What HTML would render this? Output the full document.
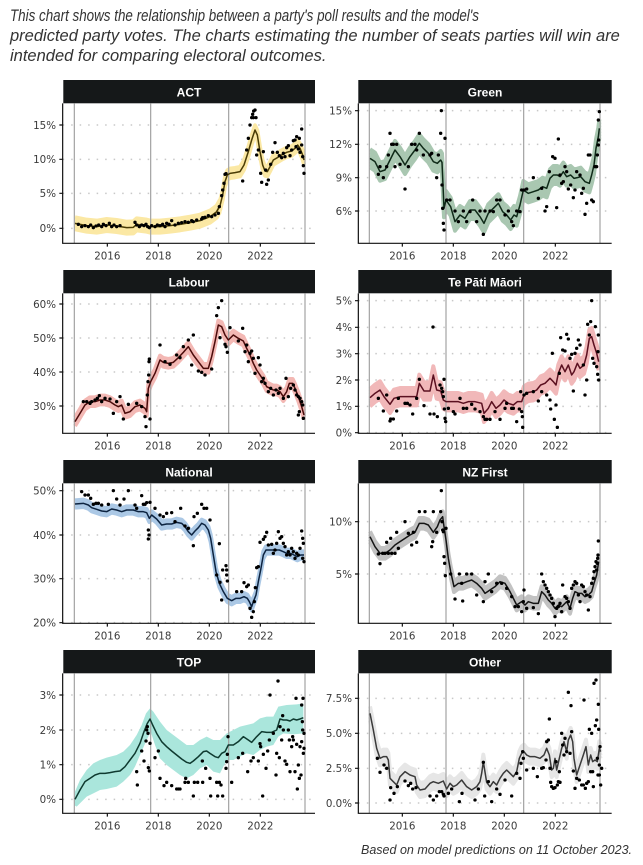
<!DOCTYPE html>
<html><head><meta charset="utf-8">
<style>
html,body{margin:0;padding:0;background:#fff;}
svg{display:block;}
.tt{font-family:"Liberation Sans",sans-serif;font-style:italic;fill:#333;}
.yl{font-family:"DejaVu Sans",sans-serif;font-size:10.3px;fill:#3a3a3a;text-anchor:end;}
.xl{font-family:"DejaVu Sans",sans-serif;font-size:10.3px;fill:#3a3a3a;text-anchor:middle;}
.st{font-family:"Liberation Sans",sans-serif;font-weight:bold;font-size:12px;fill:#fff;text-anchor:middle;}
.grid{fill:none;stroke:#c8c8c8;stroke-width:4.5;stroke-dasharray:4.5 21;}
.vl{fill:none;stroke:#a3a3a3;stroke-width:3.6;}
.ax{fill:none;stroke:#111;stroke-width:3.6;}
.rb{fill:none;stroke-width:12;stroke-linejoin:round;stroke-linecap:butt;}
.ln{fill:none;stroke-width:4.5;stroke-linejoin:round;}
.dt{fill:none;stroke:#000;stroke-width:10;stroke-linecap:round;}
</style></head>
<body>
<svg width="643" height="865" viewBox="0 0 643 865" xmlns="http://www.w3.org/2000/svg">
<defs>
<path id="pA1" d="M165,445 L200,452 L230,455 L260,450 L290,453 L320,458 L340,457 L350,448 L380,452 L392,455 L420,455 L450,452 L480,448 L510,443 L540,437 L570,425 L590,410 L600,392"/>
<path id="pA2" d="M590,410 L600,392 L608,360 L615,320 L622,300 L630,295 L645,293 L660,290 L672,270 L685,230 L695,195 L705,165 L712,180 L720,230 L728,270 L735,288 L742,290 L750,275 L760,255 L772,248 L785,240 L800,232 L815,228 L825,220 L833,210 L840,220 L848,240 L852,255"/>
<path id="pG" d="M150,250 L165,260 L180,290 L195,285 L210,255 L225,225 L240,245 L255,270 L270,245 L285,225 L298,205 L310,220 L325,235 L340,260 L352,265 L362,255 L366,262 L369,330 L372,400 L378,375 L392,395 L405,440 L420,420 L435,430 L450,405 L465,405 L480,425 L492,445 L505,415 L520,400 L535,385 L548,410 L560,420 L572,435 L582,420 L590,425 L600,390 L610,345 L625,355 L640,350 L655,345 L668,335 L680,340 L690,310 L700,300 L712,300 L720,305 L730,290 L740,305 L752,300 L762,310 L772,308 L782,305 L795,320 L808,325 L815,300 L822,270 L828,220 L835,185 L838,160"/>
<path id="pL" d="M165,470 L180,445 L195,420 L210,410 L225,410 L240,405 L255,405 L270,410 L285,420 L295,425 L305,420 L315,445 L330,440 L345,425 L360,420 L375,430 L380,440 L385,370 L392,350 L405,325 L420,285 L430,292 L445,295 L460,292 L475,278 L490,262 L505,245 L520,270 L535,290 L550,310 L565,310 L575,275 L585,230 L595,180 L605,185 L615,210 L625,225 L640,210 L655,220 L670,228 L680,250 L690,270 L700,295 L710,315 L720,330 L730,345 L740,365 L750,370 L760,375 L770,375 L780,380 L790,395 L800,380 L808,355 L818,355 L825,370 L835,395 L845,425 L852,450"/>
<path id="pM" d="M150,398 L165,385 L180,375 L192,395 L210,418 L222,400 L240,395 L260,395 L280,395 L290,395 L298,355 L312,378 L330,378 L340,330 L350,375 L362,378 L370,405 L378,410 L395,410 L415,410 L430,415 L445,410 L465,410 L485,415 L492,445 L505,430 L515,410 L528,430 L540,420 L552,405 L565,415 L580,420 L592,410 L605,410 L612,390 L625,382 L640,380 L650,375 L662,360 L675,355 L690,340 L700,350 L708,360 L715,325 L725,300 L735,320 L745,300 L755,330 L762,320 L772,295 L780,310 L792,300 L800,270 L808,220 L815,215 L822,240 L830,265 L836,290"/>
<path id="pN" d="M165,147 L190,145 L205,150 L215,158 L230,163 L245,168 L260,170 L275,162 L290,165 L305,170 L320,165 L340,165 L355,170 L370,170 L380,173 L388,190 L395,180 L410,192 L425,210 L440,207 L455,207 L470,202 L485,205 L495,215 L505,230 L515,240 L525,228 L535,218 L545,205 L555,210 L565,225 L572,250 L580,300 L588,350 L598,385 L610,410 L622,430 L635,437 L648,430 L660,430 L672,425 L682,430 L688,440 L695,455 L700,440 L708,420 L715,380 L722,345 L730,300 L738,285 L748,285 L758,285 L768,285 L778,285 L790,290 L800,295 L812,295 L822,300 L832,305 L842,300 L852,300"/>
<path id="pZ" d="M150,245 L165,275 L180,295 L195,295 L210,285 L225,270 L240,260 L255,250 L270,240 L285,232 L298,205 L312,205 L325,210 L340,232 L352,215 L360,195 L368,185 L372,215 L378,255 L385,310 L392,350 L402,395 L415,385 L428,385 L440,380 L455,375 L470,385 L485,400 L495,415 L510,405 L525,395 L540,380 L555,385 L570,410 L580,430 L590,450 L605,440 L615,450 L625,440 L640,445 L655,445 L665,410 L675,420 L685,435 L695,445 L705,460 L715,450 L725,455 L740,440 L750,460 L758,430 L765,410 L775,415 L785,415 L795,425 L805,420 L815,410 L822,385 L830,360 L836,320"/>
<path id="pO" d="M150,205 L160,255 L170,310 L180,340 L190,335 L200,335 L205,345 L210,400 L220,410 L230,420 L240,395 L255,380 L270,390 L285,395 L290,420 L300,435 L315,432 L330,415 L340,410 L355,415 L370,408 L380,432 L390,415 L400,425 L410,420 L425,405 L440,425 L455,435 L470,425 L480,410 L485,385 L490,350 L500,412 L510,425 L520,410 L530,420 L540,400 L550,385 L560,375 L570,385 L580,395 L590,380 L598,340 L605,325 L612,320 L620,330 L630,335 L645,335 L660,340 L672,330 L680,310 L688,330 L695,375 L700,370 L705,340 L710,375 L718,340 L725,310 L732,290 L740,320 L745,285 L752,270 L758,290 L762,340 L770,390 L780,360 L790,330 L798,305 L805,360 L812,330 L818,350 L825,345 L832,350 L838,310 L842,320"/>
</defs>
<rect width="643" height="865" fill="#fff"/>
<!-- Title -->
<text class="tt" font-size="16.5" transform="translate(10,21) scale(0.813,1)">This chart shows the relationship between a party's poll results and the model's</text>
<text class="tt" font-size="16.5" transform="translate(10,41) scale(1.0,1)">predicted party votes. The charts estimating the number of seats parties will win are</text>
<text class="tt" font-size="16.5" transform="translate(10,61) scale(1.0,1)">intended for comparing electoral outcomes.</text>

<!-- Strips -->
<rect x="63.3" y="80" width="251.7" height="23.3" fill="#151819"/>
<rect x="358.3" y="80" width="253.4" height="23.3" fill="#151819"/>
<rect x="63.3" y="270" width="251.7" height="23.3" fill="#151819"/>
<rect x="358.3" y="270" width="253.4" height="23.3" fill="#151819"/>
<rect x="63.3" y="460" width="251.7" height="23.3" fill="#151819"/>
<rect x="358.3" y="460" width="253.4" height="23.3" fill="#151819"/>
<rect x="63.3" y="650" width="251.7" height="23.3" fill="#151819"/>
<rect x="358.3" y="650" width="253.4" height="23.3" fill="#151819"/>
<text class="st" x="189" y="96.3">ACT</text>
<text class="st" x="485" y="96.3">Green</text>
<text class="st" x="189" y="286.3">Labour</text>
<text class="st" x="485" y="286.3">Te Pāti Māori</text>
<text class="st" x="189" y="476.3">National</text>
<text class="st" x="485" y="476.3">NZ First</text>
<text class="st" x="189" y="666.3">TOP</text>
<text class="st" x="485" y="666.3">Other</text>

<!-- ================= ACT ================= -->
<g transform="translate(20,75) scale(0.33333)">
<path class="grid" d="M128 150H885M128 253H885M128 355H885M128 460H885"/>
<g class="rb" stroke="#fbe8a4">
<use href="#pA1" y="-18"/><use href="#pA1" y="-9"/><use href="#pA1" y="0"/><use href="#pA1" y="9"/><use href="#pA1" y="18"/>
<use href="#pA2" y="-14"/><use href="#pA2" y="-5"/><use href="#pA2" y="5"/><use href="#pA2" y="14"/>
</g>
<path class="vl" d="M163 85V505M392 85V505M626 85V505M855 85V505"/>
<g class="ln" stroke="#4a3c05"><use href="#pA1"/><use href="#pA2"/></g>
<path class="dt" d="M175 448h.1M185 455h.1M195 452h.1M205 455h.1M212 450h.1M220 458h.1M228 453h.1M236 450h.1M245 455h.1M250 448h.1M258 452h.1M268 445h.1M275 455h.1M282 450h.1M290 455h.1M300 452h.1M345 442h.1M350 450h.1M358 455h.1M365 450h.1M372 452h.1M378 448h.1M383 455h.1M388 458h.1M395 452h.1M405 455h.1M412 450h.1M420 452h.1M428 448h.1M435 455h.1M440 445h.1M447 448h.1M455 437h.1M465 450h.1M475 445h.1M485 443h.1M495 440h.1M505 442h.1M515 437h.1M520 440h.1M530 435h.1M545 432h.1M548 428h.1M555 427h.1M565 422h.1M575 425h.1M585 420h.1M595 415h.1M598 395h.1M605 362h.1M608 345h.1M612 325h.1M615 298h.1M618 296h.1M668 318h.1M680 225h.1M685 190h.1M690 150h.1M695 128h.1M698 118h.1M701 108h.1M705 105h.1M700 128h.1M708 128h.1M710 240h.1M715 225h.1M722 295h.1M725 322h.1M730 230h.1M737 285h.1M740 328h.1M745 315h.1M752 268h.1M758 232h.1M765 203h.1M772 232h.1M778 242h.1M785 248h.1M790 235h.1M795 245h.1M800 218h.1M805 212h.1M810 242h.1M815 225h.1M820 197h.1M825 195h.1M830 185h.1M835 222h.1M838 190h.1M845 162h.1M845 210h.1M848 245h.1M850 272h.1M852 295h.1M840 232h.1M828 215h.1"/>
<path class="ax" d="M128 85V505H885M118 150H128M118 253H128M118 355H128M118 460H128M262 505V515M415 505V515M568 505V515M721 505V515"/>
</g>

<!-- ================= Green ================= -->
<g transform="translate(320,75) scale(0.33333)">
<path class="grid" d="M115 107H875M115 208H875M115 308H875M115 408H875"/>
<g class="rb" stroke="#a9c7b1">
<use href="#pG" y="-27"/><use href="#pG" y="-18"/><use href="#pG" y="-9"/><use href="#pG" y="0"/><use href="#pG" y="9"/><use href="#pG" y="18"/><use href="#pG" y="27"/>
</g>
<path class="vl" d="M148 85V505M378 85V505M611 85V505M840 85V505"/>
<use href="#pG" class="ln" stroke="#0f2a18"/>
<path class="dt" d="M175 298h.1M180 275h.1M190 308h.1M200 275h.1M205 240h.1M210 175h.1M215 208h.1M220 208h.1M225 275h.1M230 208h.1M240 268h.1M255 342h.1M265 275h.1M275 208h.1M285 208h.1M290 225h.1M298 175h.1M310 240h.1M330 240h.1M335 235h.1M350 308h.1M355 240h.1M362 175h.1M364 107h.1M366 330h.1M368 400h.1M370 445h.1M372 465h.1M375 190h.1M380 375h.1M390 375h.1M405 408h.1M415 440h.1M430 408h.1M440 440h.1M450 410h.1M458 375h.1M470 440h.1M480 408h.1M490 478h.1M495 408h.1M510 408h.1M520 410h.1M530 375h.1M540 375h.1M555 420h.1M565 408h.1M575 440h.1M580 452h.1M590 408h.1M600 410h.1M605 345h.1M612 345h.1M620 342h.1M640 308h.1M655 370h.1M665 340h.1M675 408h.1M680 395h.1M688 290h.1M698 245h.1M705 250h.1M710 398h.1M715 192h.1M720 300h.1M725 325h.1M730 320h.1M735 275h.1M740 290h.1M745 342h.1M752 330h.1M760 368h.1M765 345h.1M770 290h.1M780 300h.1M785 355h.1M790 340h.1M795 418h.1M800 385h.1M805 240h.1M810 240h.1M815 375h.1M820 380h.1M825 275h.1M830 275h.1M832 240h.1M835 210h.1M835 135h.1M838 110h.1M836 195h.1"/>
<path class="ax" d="M115 85V505H875M105 107H115M105 208H115M105 308H115M105 408H115M247 505V515M400 505V515M553 505V515M706 505V515"/>
</g>

<!-- ================= Labour ================= -->
<g transform="translate(20,265) scale(0.33333)">
<path class="grid" d="M128 117H885M128 219H885M128 321H885M128 423H885"/>
<g class="rb" stroke="#f3b8b4">
<use href="#pL" y="-13"/><use href="#pL" y="-4"/><use href="#pL" y="4"/><use href="#pL" y="13"/>
</g>
<path class="vl" d="M163 85V505M392 85V505M626 85V505M855 85V505"/>
<use href="#pL" class="ln" stroke="#4b0a0a"/>
<path class="dt" d="M190 410h.1M200 410h.1M210 415h.1M215 410h.1M225 405h.1M232 400h.1M238 392h.1M245 410h.1M255 400h.1M270 402h.1M280 445h.1M290 410h.1M300 395h.1M310 462h.1M325 418h.1M350 415h.1M365 425h.1M375 455h.1M378 485h.1M382 390h.1M384 350h.1M386 330h.1M387 290h.1M388 282h.1M390 462h.1M420 240h.1M435 290h.1M450 298h.1M470 270h.1M480 278h.1M490 245h.1M505 225h.1M520 210h.1M515 300h.1M535 318h.1M545 322h.1M555 330h.1M575 312h.1M590 152h.1M595 128h.1M600 218h.1M605 107h.1M615 238h.1M618 245h.1M622 262h.1M630 188h.1M655 228h.1M668 190h.1M675 260h.1M680 240h.1M685 290h.1M690 265h.1M695 258h.1M700 280h.1M705 325h.1M715 278h.1M720 300h.1M725 350h.1M730 340h.1M735 355h.1M745 380h.1M752 370h.1M760 390h.1M768 375h.1M775 385h.1M780 370h.1M790 400h.1M798 340h.1M805 395h.1M812 370h.1M820 360h.1M825 375h.1M830 390h.1M835 395h.1M840 400h.1M845 410h.1M848 420h.1M850 460h.1M835 450h.1M838 440h.1"/>
<path class="ax" d="M128 85V505H885M118 117H128M118 219H128M118 321H128M118 423H128M262 505V515M415 505V515M568 505V515M721 505V515"/>
</g>

<!-- ================= Te Pati Maori ================= -->
<g transform="translate(320,265) scale(0.33333)">
<path class="grid" d="M115 107H875M115 187H875M115 266H875M115 345H875M115 424H875M115 503H875"/>
<g class="rb" stroke="#f1b8b9">
<use href="#pM" y="-26"/><use href="#pM" y="-17"/><use href="#pM" y="-9"/><use href="#pM" y="0"/><use href="#pM" y="9"/><use href="#pM" y="17"/><use href="#pM" y="26"/>
</g>
<path class="vl" d="M148 85V505M378 85V505M611 85V505M840 85V505"/>
<use href="#pM" class="ln" stroke="#5b1020"/>
<path class="dt" d="M175 400h.1M190 438h.1M200 390h.1M210 468h.1M212 462h.1M220 462h.1M230 438h.1M235 400h.1M255 415h.1M262 415h.1M270 420h.1M278 447h.1M290 400h.1M298 343h.1M312 422h.1M330 447h.1M339 186h.1M342 447h.1M352 455h.1M360 360h.1M365 370h.1M368 380h.1M370 395h.1M372 343h.1M373 432h.1M375 460h.1M377 470h.1M385 430h.1M400 440h.1M405 447h.1M420 400h.1M430 430h.1M440 430h.1M455 418h.1M465 432h.1M480 440h.1M490 455h.1M495 463h.1M500 463h.1M510 463h.1M525 440h.1M540 463h.1M555 430h.1M560 415h.1M575 430h.1M580 430h.1M590 470h.1M598 432h.1M602 380h.1M605 440h.1M607 455h.1M608 487h.1M612 390h.1M620 385h.1M640 380h.1M655 408h.1M665 380h.1M680 390h.1M690 405h.1M692 432h.1M697 265h.1M703 463h.1M708 420h.1M712 487h.1M718 325h.1M722 218h.1M728 255h.1M735 258h.1M740 208h.1M745 222h.1M750 280h.1M755 268h.1M760 378h.1M765 265h.1M770 250h.1M775 225h.1M780 240h.1M790 300h.1M795 390h.1M800 345h.1M803 178h.1M808 210h.1M812 170h.1M815 107h.1M818 280h.1M822 295h.1M826 185h.1M830 305h.1M833 328h.1M836 345h.1M835 210h.1M834 260h.1"/>
<path class="ax" d="M115 85V505H875M105 107H115M105 187H115M105 266H115M105 345H115M105 424H115M105 503H115M247 505V515M400 505V515M553 505V515M706 505V515"/>
</g>

<!-- ================= National ================= -->
<g transform="translate(20,455) scale(0.33333)">
<path class="grid" d="M128 107H885M128 240H885M128 371H885M128 503H885"/>
<g class="rb" stroke="#abc8e5">
<use href="#pN" y="-11"/><use href="#pN" y="0"/><use href="#pN" y="11"/>
</g>
<path class="vl" d="M163 85V505M392 85V505M626 85V505M855 85V505"/>
<use href="#pN" class="ln" stroke="#0c2340"/>
<path class="dt" d="M185 110h.1M195 120h.1M205 120h.1M212 130h.1M220 148h.1M228 145h.1M235 145h.1M245 150h.1M265 148h.1M280 107h.1M290 132h.1M300 150h.1M312 132h.1M325 107h.1M345 150h.1M350 160h.1M365 122h.1M370 148h.1M375 148h.1M380 143h.1M385 225h.1M387 240h.1M385 252h.1M390 142h.1M405 160h.1M420 180h.1M430 185h.1M440 175h.1M455 173h.1M465 200h.1M482 160h.1M495 213h.1M505 220h.1M520 272h.1M522 185h.1M532 175h.1M545 148h.1M552 160h.1M560 160h.1M570 195h.1M590 360h.1M598 266h.1M600 382h.1M605 435h.1M608 345h.1M618 332h.1M620 345h.1M620 360h.1M622 378h.1M650 410h.1M665 410h.1M672 383h.1M680 395h.1M685 390h.1M690 460h.1M695 487h.1M700 470h.1M703 440h.1M706 398h.1M710 338h.1M715 335h.1M720 262h.1M730 253h.1M735 245h.1M740 232h.1M745 270h.1M755 268h.1M760 295h.1M765 285h.1M770 265h.1M775 230h.1M780 250h.1M785 245h.1M790 265h.1M795 275h.1M800 300h.1M805 290h.1M810 300h.1M815 280h.1M820 290h.1M825 310h.1M830 295h.1M835 300h.1M840 280h.1M845 228h.1M848 250h.1M850 265h.1M852 320h.1M848 310h.1"/>
<path class="ax" d="M128 85V505H885M118 107H128M118 240H128M118 371H128M118 503H128M262 505V515M415 505V515M568 505V515M721 505V515"/>
</g>

<!-- ================= NZ First ================= -->
<g transform="translate(320,455) scale(0.33333)">
<path class="grid" d="M115 200H875M115 357H875"/>
<g class="rb" stroke="#c2c2c2">
<use href="#pZ" y="-16"/><use href="#pZ" y="-8"/><use href="#pZ" y="0"/><use href="#pZ" y="8"/><use href="#pZ" y="16"/>
</g>
<path class="vl" d="M148 85V505M378 85V505M611 85V505M840 85V505"/>
<use href="#pZ" class="ln" stroke="#141414"/>
<path class="dt" d="M175 297h.1M180 326h.1M188 295h.1M195 295h.1M200 262h.1M205 295h.1M212 250h.1M215 295h.1M225 295h.1M230 232h.1M235 280h.1M255 200h.1M265 235h.1M275 270h.1M280 232h.1M290 262h.1M298 170h.1M315 170h.1M335 275h.1M338 260h.1M340 170h.1M350 232h.1M362 170h.1M364 107h.1M366 200h.1M368 225h.1M370 230h.1M372 305h.1M374 325h.1M376 362h.1M378 220h.1M392 357h.1M405 432h.1M418 357h.1M425 385h.1M428 438h.1M440 357h.1M455 357h.1M470 420h.1M490 440h.1M495 380h.1M505 357h.1M515 410h.1M530 385h.1M545 385h.1M560 400h.1M575 425h.1M585 455h.1M595 455h.1M605 470h.1M610 440h.1M612 405h.1M620 460h.1M640 458h.1M655 476h.1M665 357h.1M670 380h.1M675 390h.1M680 400h.1M685 410h.1M690 420h.1M695 430h.1M700 445h.1M705 485h.1M710 460h.1M715 455h.1M720 445h.1M725 470h.1M728 390h.1M735 425h.1M740 430h.1M745 440h.1M750 460h.1M755 400h.1M760 390h.1M765 380h.1M770 385h.1M775 420h.1M780 440h.1M785 390h.1M790 395h.1M795 410h.1M800 420h.1M805 465h.1M810 425h.1M815 385h.1M820 370h.1M822 350h.1M825 335h.1M828 320h.1M830 345h.1M832 325h.1M834 300h.1M835 258h.1M833 310h.1"/>
<path class="ax" d="M115 85V505H875M105 200H115M105 357H115M247 505V515M400 505V515M553 505V515M706 505V515"/>
</g>

<!-- ================= TOP ================= -->
<g transform="translate(20,645) scale(0.33333)">
<path class="grid" d="M128 150H885M128 255H885M128 359H885M128 463H885"/>
<path fill="#aae6dc" d="M165,440 L180,405 L200,375 L220,355 L240,345 L260,338 L290,330 L310,320 L330,300 L350,270 L365,240 L378,205 L390,190 L400,200 L420,230 L440,255 L460,270 L480,285 L500,300 L520,300 L540,285 L560,275 L580,285 L600,285 L620,265 L640,255 L660,245 L680,240 L700,235 L720,220 L740,215 L760,215 L775,185 L800,180 L830,178 L850,175 L850,265 L820,268 L790,265 L775,275 L760,300 L740,305 L720,315 L700,330 L680,325 L660,335 L640,345 L620,345 L600,385 L580,380 L560,360 L540,370 L520,390 L500,400 L480,390 L460,375 L440,360 L420,340 L405,300 L392,260 L380,285 L360,330 L345,365 L330,390 L310,410 L290,425 L260,432 L240,435 L220,445 L200,455 L185,470 L170,485 L162,480 Z"/>
<path class="vl" d="M163 85V505M392 85V505M626 85V505M855 85V505"/>
<path class="ln" stroke="#0f3a30" d="M165,463 L180,435 L195,410 L210,400 L225,390 L240,385 L255,385 L270,383 L285,380 L300,378 L315,365 L330,345 L345,325 L360,295 L372,260 L382,235 L390,222 L398,240 L410,265 L425,290 L440,305 L455,318 L470,330 L485,342 L500,352 L510,355 L520,348 L535,335 L550,320 L560,318 L570,325 L585,335 L595,338 L605,325 L615,320 L625,300 L640,300 L655,290 L670,275 L685,285 L695,292 L710,275 L725,260 L740,262 L755,262 L770,255 L780,222 L790,225 L800,225 L810,228 L820,222 L830,225 L840,222 L850,218"/>
<path class="dt" d="M350 380h.1M352 420h.1M365 318h.1M372 348h.1M378 288h.1M380 255h.1M382 245h.1M384 265h.1M385 368h.1M388 378h.1M390 295h.1M405 338h.1M415 318h.1M420 400h.1M432 422h.1M440 412h.1M455 422h.1M470 432h.1M475 432h.1M480 432h.1M495 412h.1M497 400h.1M505 412h.1M520 453h.1M523 412h.1M533 412h.1M547 348h.1M548 412h.1M557 370h.1M570 400h.1M572 453h.1M590 412h.1M593 453h.1M598 412h.1M603 420h.1M608 453h.1M618 370h.1M620 350h.1M622 328h.1M624 275h.1M635 412h.1M655 338h.1M668 325h.1M683 380h.1M693 348h.1M700 338h.1M715 348h.1M720 296h.1M722 305h.1M728 453h.1M730 328h.1M738 370h.1M743 318h.1M748 285h.1M750 150h.1M760 265h.1M768 390h.1M770 325h.1M774 108h.1M778 338h.1M780 245h.1M785 285h.1M788 212h.1M790 255h.1M795 348h.1M800 358h.1M805 255h.1M808 285h.1M810 380h.1M815 305h.1M818 275h.1M820 285h.1M825 380h.1M828 160h.1M830 298h.1M832 432h.1M835 360h.1M838 400h.1M840 305h.1M843 390h.1M845 180h.1M847 230h.1M849 160h.1M850 325h.1M852 310h.1M852 265h.1M848 255h.1M845 290h.1"/>
<path class="ax" d="M128 85V505H885M118 150H128M118 255H128M118 359H128M118 463H128M262 505V515M415 505V515M568 505V515M721 505V515"/>
</g>

<!-- ================= Other ================= -->
<g transform="translate(320,645) scale(0.33333)">
<path class="grid" d="M115 160H875M115 265H875M115 370H875M115 474H875"/>
<g class="rb" stroke="#e6e6e6">
<use href="#pO" y="-21"/><use href="#pO" y="-11"/><use href="#pO" y="0"/><use href="#pO" y="11"/><use href="#pO" y="21"/>
</g>
<path class="vl" d="M148 85V505M378 85V505M611 85V505M840 85V505"/>
<use href="#pO" class="ln" stroke="#3a3a3a"/>
<path class="dt" d="M172 340h.1M180 382h.1M192 360h.1M200 370h.1M210 465h.1M212 428h.1M222 445h.1M232 425h.1M255 408h.1M265 422h.1M272 415h.1M278 432h.1M288 428h.1M330 453h.1M340 465h.1M350 453h.1M358 440h.1M365 440h.1M370 448h.1M372 453h.1M385 445h.1M395 432h.1M418 470h.1M426 445h.1M465 465h.1M475 432h.1M490 352h.1M494 453h.1M505 410h.1M515 470h.1M530 432h.1M540 448h.1M555 405h.1M575 453h.1M590 385h.1M600 400h.1M603 355h.1M608 320h.1M610 340h.1M620 375h.1M640 370h.1M652 395h.1M665 370h.1M670 368h.1M678 345h.1M680 290h.1M685 285h.1M688 222h.1M690 370h.1M692 412h.1M695 425h.1M700 430h.1M705 428h.1M708 350h.1M712 420h.1M715 410h.1M718 380h.1M720 412h.1M725 265h.1M728 300h.1M732 330h.1M735 280h.1M740 320h.1M745 142h.1M750 325h.1M753 182h.1M755 260h.1M760 378h.1M765 430h.1M770 400h.1M778 405h.1M785 420h.1M790 420h.1M792 165h.1M796 430h.1M800 415h.1M805 410h.1M808 253h.1M812 380h.1M815 265h.1M818 380h.1M820 425h.1M822 115h.1M826 242h.1M828 105h.1M830 225h.1M832 340h.1M834 390h.1M835 178h.1M836 253h.1M838 360h.1M840 305h.1M842 420h.1M845 370h.1M838 390h.1"/>
<path class="ax" d="M115 85V505H875M105 160H115M105 265H115M105 370H115M105 474H115M247 505V515M400 505V515M553 505V515M706 505V515"/>
</g>

<!-- Y labels -->
<text class="yl" x="56" y="129">15%</text>
<text class="yl" x="56" y="163.1">10%</text>
<text class="yl" x="56" y="197.1">5%</text>
<text class="yl" x="56" y="232.1">0%</text>

<text class="yl" x="352" y="114.5">15%</text>
<text class="yl" x="352" y="148.1">12%</text>
<text class="yl" x="352" y="181.5">9%</text>
<text class="yl" x="352" y="214.8">6%</text>

<text class="yl" x="56" y="307.8">60%</text>
<text class="yl" x="56" y="341.8">50%</text>
<text class="yl" x="56" y="375.8">40%</text>
<text class="yl" x="56" y="409.8">30%</text>

<text class="yl" x="352" y="304.5">5%</text>
<text class="yl" x="352" y="331.1">4%</text>
<text class="yl" x="352" y="357.5">3%</text>
<text class="yl" x="352" y="383.8">2%</text>
<text class="yl" x="352" y="410.1">1%</text>
<text class="yl" x="352" y="436.5">0%</text>

<text class="yl" x="56" y="494.5">50%</text>
<text class="yl" x="56" y="538.8">40%</text>
<text class="yl" x="56" y="582.5">30%</text>
<text class="yl" x="56" y="626.5">20%</text>

<text class="yl" x="352" y="525.5">10%</text>
<text class="yl" x="352" y="577.8">5%</text>

<text class="yl" x="56" y="698.8">3%</text>
<text class="yl" x="56" y="733.8">2%</text>
<text class="yl" x="56" y="768.5">1%</text>
<text class="yl" x="56" y="803.1">0%</text>

<text class="yl" x="352" y="702.1">7.5%</text>
<text class="yl" x="352" y="737.1">5.0%</text>
<text class="yl" x="352" y="772.1">2.5%</text>
<text class="yl" x="352" y="806.8">0.0%</text>

<!-- X labels -->
<text class="xl" x="107.3" y="259.3">2016</text><text class="xl" x="158.3" y="259.3">2018</text><text class="xl" x="209.3" y="259.3">2020</text><text class="xl" x="260.3" y="259.3">2022</text>
<text class="xl" x="402.3" y="259.3">2016</text><text class="xl" x="453.3" y="259.3">2018</text><text class="xl" x="504.3" y="259.3">2020</text><text class="xl" x="555.3" y="259.3">2022</text>
<text class="xl" x="107.3" y="449.3">2016</text><text class="xl" x="158.3" y="449.3">2018</text><text class="xl" x="209.3" y="449.3">2020</text><text class="xl" x="260.3" y="449.3">2022</text>
<text class="xl" x="402.3" y="449.3">2016</text><text class="xl" x="453.3" y="449.3">2018</text><text class="xl" x="504.3" y="449.3">2020</text><text class="xl" x="555.3" y="449.3">2022</text>
<text class="xl" x="107.3" y="639.3">2016</text><text class="xl" x="158.3" y="639.3">2018</text><text class="xl" x="209.3" y="639.3">2020</text><text class="xl" x="260.3" y="639.3">2022</text>
<text class="xl" x="402.3" y="639.3">2016</text><text class="xl" x="453.3" y="639.3">2018</text><text class="xl" x="504.3" y="639.3">2020</text><text class="xl" x="555.3" y="639.3">2022</text>
<text class="xl" x="107.3" y="829.3">2016</text><text class="xl" x="158.3" y="829.3">2018</text><text class="xl" x="209.3" y="829.3">2020</text><text class="xl" x="260.3" y="829.3">2022</text>
<text class="xl" x="402.3" y="829.3">2016</text><text class="xl" x="453.3" y="829.3">2018</text><text class="xl" x="504.3" y="829.3">2020</text><text class="xl" x="555.3" y="829.3">2022</text>

<!-- Footer -->
<text class="tt" x="361" y="854" font-size="13" textLength="271" lengthAdjust="spacingAndGlyphs">Based on model predictions on 11 October 2023.</text>
</svg>
</body></html>
